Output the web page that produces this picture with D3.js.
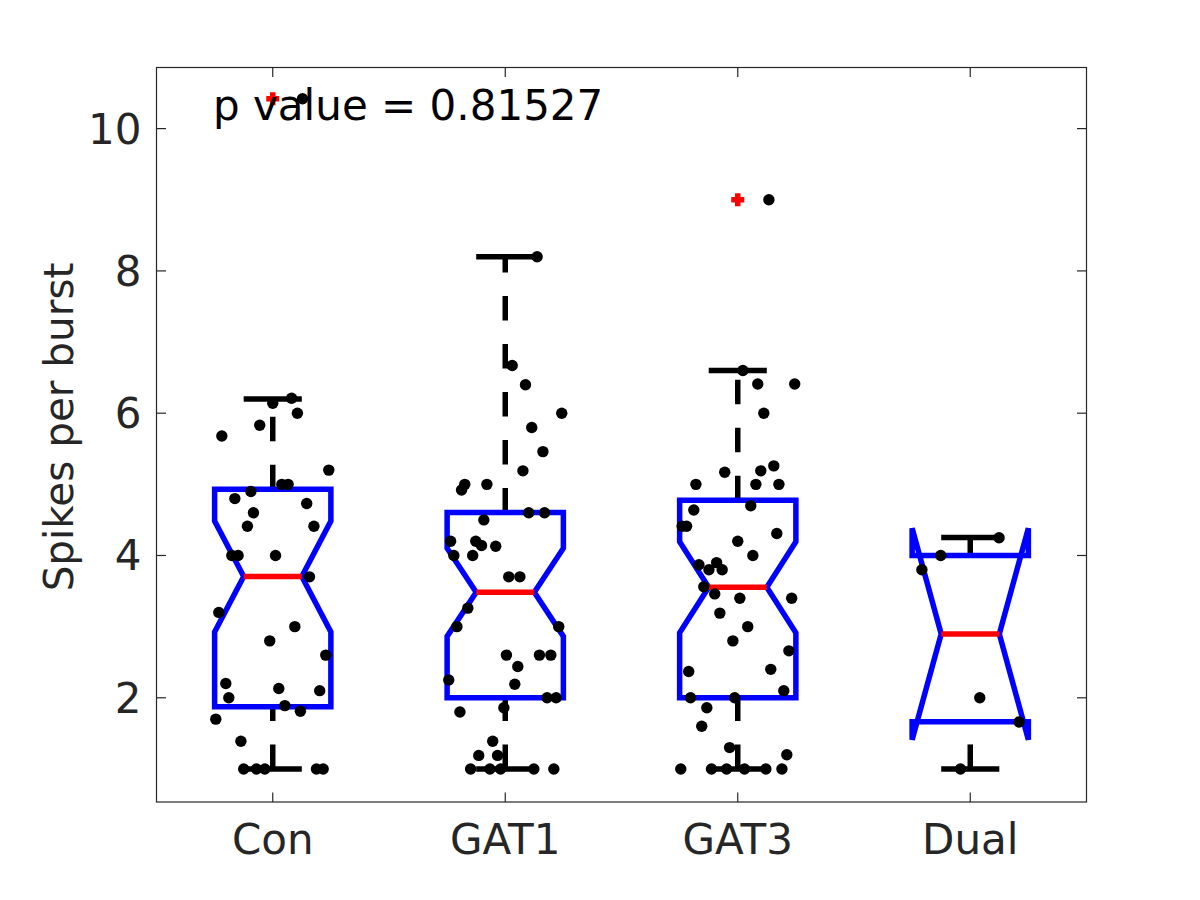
<!DOCTYPE html>
<html>
<head>
<meta charset="utf-8">
<script src="https://cdn.jsdelivr.net/npm/d3@7"></script>
<style>
  html, body { margin: 0; padding: 0; background: #fff; }
  svg { display: block; }
</style>
</head>
<body>
<svg id="chart" width="1200" height="900"></svg>
<script>
// ---------------- data ----------------
const categories = ["Con", "GAT1", "GAT3", "Dual"];
const yTicks = [2, 4, 6, 8, 10];
const pValueText = "p value = 0.81527";

// box statistics per category
const q1 = [1.873, 2.0, 2.0, 1.662];
const medians = [3.704, 3.483, 3.554, 2.897];
const q3 = [4.93, 4.606, 4.775, 4.0];
const whiskerLo = [1.0, 1.0, 1.0, 1.0];
const whiskerHi = [6.2, 8.2, 6.6, 4.254];
const notchLo = [2.924, 2.863, 2.915, 1.41];
const notchHi = [4.484, 4.103, 4.194, 4.384];

// outliers (red +)
const outlierCat = [0, 2];
const outlierVals = [10.42, 9.0];

// individual points (value, horizontal jitter in category units)
const conVals = [6.21, 6.14, 6.0, 5.83, 5.68, 5.2, 5.0, 5.0, 4.9, 4.8, 4.73, 4.6, 4.41, 4.41, 4.0, 4.0, 4.0, 3.7, 3.2, 3.0, 2.8, 2.6, 2.2, 2.13, 2.1, 2.0, 1.89, 1.81, 1.7, 1.39, 1.0, 1.0, 1.0, 1.0, 1.0, 10.42];
const conJit = [0.081, 0, 0.106, -0.056, -0.219, 0.241, 0.039, 0.066, -0.094, -0.163, 0.146, -0.083, -0.109, 0.177, -0.176, -0.149, 0.012, 0.158, -0.232, 0.095, -0.013, 0.228, -0.202, 0.026, 0.202, -0.189, 0.052, 0.119, -0.245, -0.137, -0.125, -0.07, -0.034, 0.188, 0.217, 0.128];

const gat1Vals = [8.2, 6.67, 6.4, 6.0, 5.8, 5.46, 5.19, 5.0, 4.92, 5.0, 4.6, 4.6, 4.5, 4.2, 4.2, 4.14, 4.13, 4.0, 4.0, 3.7, 3.7, 3.26, 3.0, 3.0, 2.6, 2.6, 2.6, 2.44, 2.25, 2.19, 2.0, 2.0, 1.86, 1.8, 1.39, 1.19, 1.19, 1.0, 1.0, 1.0, 1.0, 1.0];
const gat1Jit = [0.137, 0.030, 0.087, 0.243, 0.114, 0.162, 0.076, -0.174, -0.188, -0.079, 0.101, 0.169, -0.092, -0.235, -0.127, -0.102, -0.041, -0.221, -0.140, 0.015, 0.063, -0.161, -0.208, 0.230, 0.005, 0.147, 0.196, 0.054, -0.243, 0.041, 0.180, 0.219, -0.006, -0.195, -0.054, -0.114, -0.033, -0.149, -0.066, -0.020, 0.123, 0.209];

const gat3Vals = [9.0, 6.6, 6.41, 6.41, 6.0, 5.26, 5.17, 5.19, 5.0, 5.0, 5.0, 4.7, 4.64, 4.41, 4.41, 4.31, 4.2, 4.0, 3.87, 3.9, 3.8, 3.8, 3.56, 3.46, 3.4, 3.4, 3.19, 3.0, 2.8, 2.66, 2.4, 2.37, 2.1, 2.0, 2.0, 1.86, 1.6, 1.3, 1.2, 1.0, 1.0, 1.0, 1.0, 1.0, 1.0];
const gat3Jit = [0.134, 0.022, 0.086, 0.245, 0.112, 0.155, -0.056, 0.099, -0.180, 0.078, 0.177, 0.056, -0.189, -0.239, -0.220, 0.168, 0.0, 0.065, -0.167, -0.091, -0.124, -0.067, -0.146, -0.099, 0.009, 0.232, -0.077, 0.043, -0.021, 0.220, 0.142, -0.211, 0.198, -0.203, -0.013, -0.133, -0.155, -0.035, 0.211, -0.245, -0.113, -0.048, 0.029, 0.121, 0.190];

const dualVals = [4.25, 4.0, 3.8, 2.0, 1.66, 1.0];
const dualJit = [0.124, -0.127, -0.208, 0.041, 0.210, -0.042];

const groupVals = [conVals, gat1Vals, gat3Vals, dualVals];
const groupJit = [conJit, gat1Jit, gat3Jit, dualJit];

// ---------------- layout ----------------
const L = 156.5, R = 1086.5, T = 67.5, B = 802;
const svg = d3.select("#chart");
const x = d3.scaleLinear().domain([0.5, 4.5]).range([L, R]);
const y = d3.scaleLinear().domain([0.5352, 10.859]).range([B, T]);

const axisColor = "#262626";
const font = "'DejaVu Sans', sans-serif";
const boxHalf = 0.25, notchInset = 0.125, capHalf = 0.125;
const lw = 5.5;

const plot = svg.append("g");

categories.forEach((c, i) => {
  const cx = i + 1;
  const g = plot.append("g");
  // whiskers (dashed)
  g.append("line")
    .attr("x1", x(cx)).attr("x2", x(cx))
    .attr("y1", y(q3[i])).attr("y2", y(whiskerHi[i]))
    .attr("stroke", "#000").attr("stroke-width", lw)
    .attr("stroke-dasharray", "24.5 23.5");
  g.append("line")
    .attr("x1", x(cx)).attr("x2", x(cx))
    .attr("y1", y(whiskerLo[i])).attr("y2", y(q1[i]))
    .attr("stroke", "#000").attr("stroke-width", lw)
    .attr("stroke-dasharray", "24.5 23.5");
  // caps
  [whiskerHi[i], whiskerLo[i]].forEach(v => {
    g.append("line")
      .attr("x1", x(cx - capHalf)).attr("x2", x(cx + capHalf))
      .attr("y1", y(v)).attr("y2", y(v))
      .attr("stroke", "#000").attr("stroke-width", lw);
  });
  // notched box
  const l = cx - boxHalf, r = cx + boxHalf;
  const pts = [
    [l, q1[i]], [l, notchLo[i]], [l + notchInset, medians[i]], [l, notchHi[i]], [l, q3[i]],
    [r, q3[i]], [r, notchHi[i]], [r - notchInset, medians[i]], [r, notchLo[i]], [r, q1[i]]
  ];
  g.append("path")
    .attr("d", d3.line().x(d => x(d[0])).y(d => y(d[1]))(pts) + "Z")
    .attr("fill", "none").attr("stroke", "#0000ff").attr("stroke-width", lw)
    .attr("stroke-linejoin", "miter");
  // median
  g.append("line")
    .attr("x1", x(l + notchInset)).attr("x2", x(r - notchInset))
    .attr("y1", y(medians[i])).attr("y2", y(medians[i]))
    .attr("stroke", "#ff0000").attr("stroke-width", lw);
});

// outliers
outlierCat.forEach((ci, k) => {
  const px = x(ci + 1), py = y(outlierVals[k]);
  plot.append("path")
    .attr("d", `M${px - 6.5},${py}H${px + 6.5}M${px},${py - 6.5}V${py + 6.5}`)
    .attr("stroke", "#ff0000").attr("stroke-width", 5.5).attr("fill", "none");
});

// points
groupVals.forEach((vals, i) => {
  plot.append("g").selectAll("circle")
    .data(vals.map((v, k) => [i + 1 + groupJit[i][k], v]))
    .join("circle")
    .attr("cx", d => x(d[0])).attr("cy", d => y(d[1]))
    .attr("r", 5.7).attr("fill", "#000");
});

// ---------------- axes ----------------
const frame = svg.append("g");
frame.append("rect")
  .attr("x", L).attr("y", T).attr("width", R - L).attr("height", B - T)
  .attr("fill", "none").attr("stroke", axisColor).attr("stroke-width", 1.2);

const tickLen = 9.5;
yTicks.forEach(t => {
  frame.append("line").attr("x1", L).attr("x2", L + tickLen).attr("y1", y(t)).attr("y2", y(t))
    .attr("stroke", axisColor).attr("stroke-width", 1.2);
  frame.append("line").attr("x1", R).attr("x2", R - tickLen).attr("y1", y(t)).attr("y2", y(t))
    .attr("stroke", axisColor).attr("stroke-width", 1.2);
  frame.append("text").attr("x", L - 15).attr("y", y(t) + 15)
    .attr("text-anchor", "end").attr("font-family", font).attr("font-size", 42)
    .attr("fill", axisColor).text(t);
});
categories.forEach((c, i) => {
  const px = x(i + 1);
  frame.append("line").attr("x1", px).attr("x2", px).attr("y1", B).attr("y2", B - tickLen)
    .attr("stroke", axisColor).attr("stroke-width", 1.2);
  frame.append("line").attr("x1", px).attr("x2", px).attr("y1", T).attr("y2", T + tickLen)
    .attr("stroke", axisColor).attr("stroke-width", 1.2);
  frame.append("text").attr("x", px).attr("y", 854)
    .attr("text-anchor", "middle").attr("font-family", font).attr("font-size", 42)
    .attr("fill", axisColor).text(c);
});

// y label
svg.append("text")
  .attr("transform", "translate(73,427) rotate(-90)")
  .attr("text-anchor", "middle").attr("font-family", font).attr("font-size", 40.5)
  .attr("fill", axisColor).text("Spikes per burst");

// p value annotation
svg.append("text")
  .attr("x", 213).attr("y", 120)
  .attr("font-family", font).attr("font-size", 42)
  .attr("fill", "#000").text(pValueText);
</script>
</body>
</html>
